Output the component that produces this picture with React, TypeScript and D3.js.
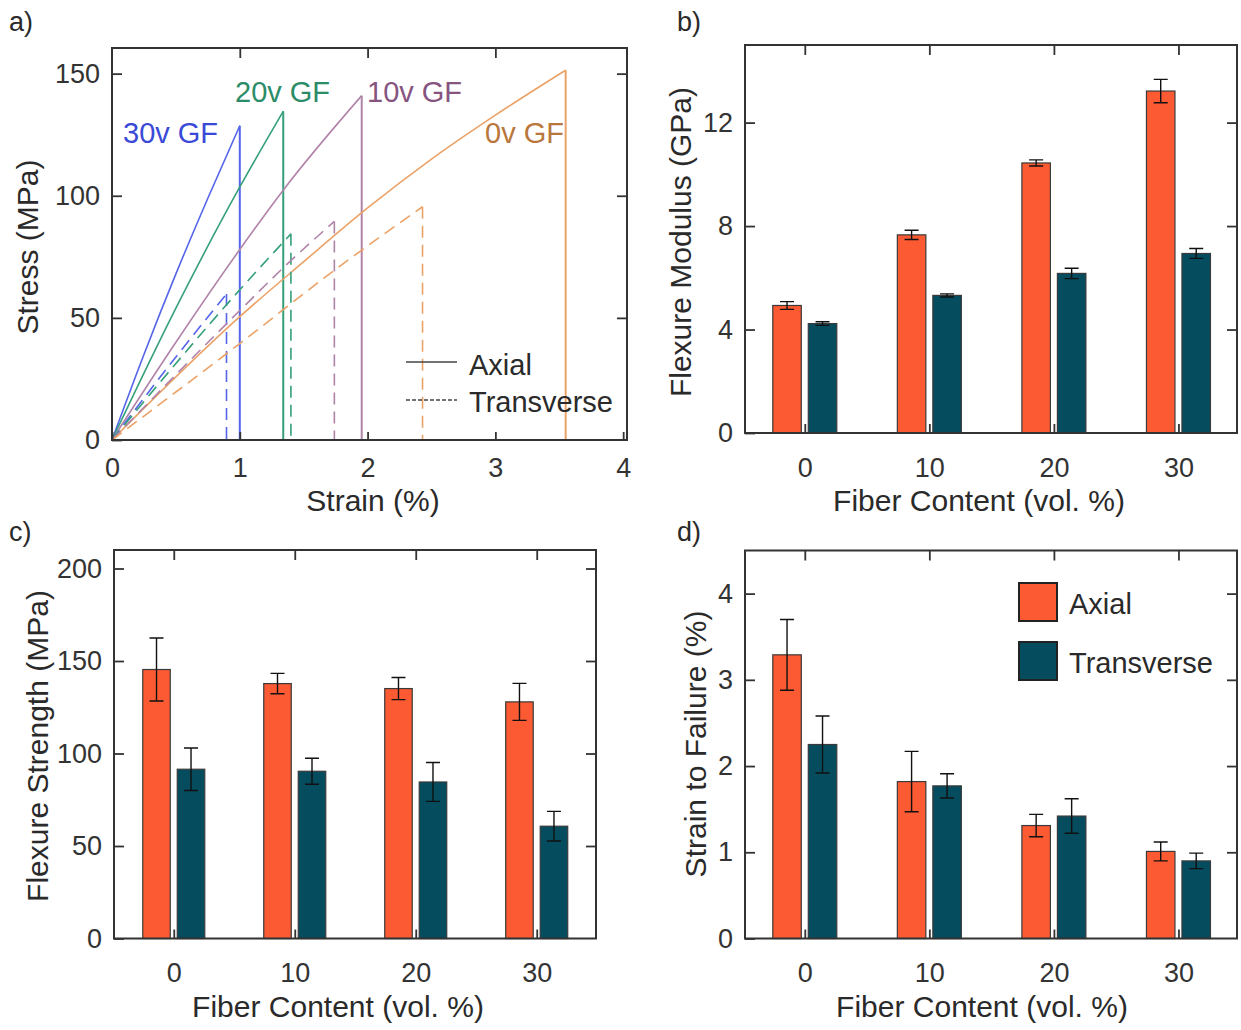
import React, { useEffect, useRef } from 'react'
import * as d3 from 'd3'

const W = 1241
const H = 1030
const FONT = '"Liberation Sans", Arial, Helvetica, sans-serif'
const ORANGE = '#fb5a33'
const TEAL = '#054c5f'
const INK = '#2a2a2a'

// ---- panel a: stress-strain curves, [strain %, stress MPa]
const axial30 = [[0, 0], [0.25, 35], [0.5, 68], [0.75, 99], [1.0, 128.7]]
const axial20 = [[0, 0], [0.5, 54], [1.0, 103.6], [1.34, 134.6]]
const axial10 = [[0, 0], [0.5, 40], [1.0, 78], [1.35, 103], [1.954, 141]]
const axial0 = [[0, 0], [1.0, 50.5], [1.5, 73], [2.0, 95], [2.5, 115], [3.0, 133], [3.55, 151.4]]
const trans30 = [[0, 0], [0.5, 34], [0.896, 59.8]]
const trans20 = [[0, 0], [1.0, 61.5], [1.4, 84.4]]
const trans10 = [[0, 0], [1.0, 53], [1.35, 71], [1.74, 89.5]]
const trans0 = [[0, 0], [1.0, 39.5], [1.74, 69.5], [2.43, 95.5]]

const strainTicks = [0, 1, 2, 3, 4]
const stressTicks = [0, 50, 100, 150]

// ---- panels b, c, d: bar charts
const fiberContent = [0, 10, 20, 30]

const modulusAxial = [4.93, 7.66, 10.44, 13.22]
const modulusAxialErr = [0.15, 0.18, 0.12, 0.45]
const modulusTrans = [4.23, 5.32, 6.17, 6.94]
const modulusTransErr = [0.07, 0.06, 0.2, 0.19]
const modulusTicks = [0, 4, 8, 12]

const strengthAxial = [145.4, 137.8, 135.1, 127.9]
const strengthAxialErr = [17, 5.5, 6, 10]
const strengthTrans = [91.5, 90.4, 84.6, 60.7]
const strengthTransErr = [11.5, 7, 10.5, 8]
const strengthTicks = [0, 50, 100, 150, 200]

const failAxial = [3.29, 1.82, 1.31, 1.01]
const failAxialErr = [0.41, 0.35, 0.13, 0.11]
const failTrans = [2.25, 1.77, 1.42, 0.9]
const failTransErr = [0.33, 0.14, 0.2, 0.09]
const failTicks = [0, 1, 2, 3, 4]

const fmt = d3.format('d')

function styleAxis(g) {
  g.select('.domain').remove()
  g.selectAll('.tick line').attr('stroke', '#333').attr('stroke-width', 1.8)
  g.selectAll('.tick text')
    .attr('fill', '#333')
    .style('font-family', FONT)
    .style('font-size', '27px')
}

function drawFrame(svg, left, top, right, bottom) {
  svg.append('rect')
    .attr('x', left).attr('y', top)
    .attr('width', right - left).attr('height', bottom - top)
    .attr('fill', 'none')
    .attr('stroke', '#333')
    .attr('stroke-width', 2)
}

function addText(svg, txt, x, y, opts: any = {}) {
  const t = svg.append('text')
    .attr('x', x).attr('y', y)
    .attr('fill', opts.fill || INK)
    .attr('text-anchor', opts.anchor || 'start')
    .style('font-family', FONT)
    .style('font-size', (opts.size || 28) + 'px')
    .text(txt)
  if (opts.rotate) t.attr('transform', `rotate(-90, ${x}, ${y})`)
  return t
}

function drawStress(svg) {
  const left = 112, right = 627, top = 48, bottom = 440
  const x = d3.scaleLinear().domain([0, 4.03]).range([left, right])
  const y = d3.scaleLinear().domain([0, 160.5]).range([bottom, top])

  const line = d3.line().x(d => x(d[0])).y(d => y(d[1])).curve(d3.curveMonotoneX)

  const series = [
    { pts: axial30, color: '#5565ea', dash: null },
    { pts: axial20, color: '#35a07a', dash: null },
    { pts: axial10, color: '#b083a9', dash: null },
    { pts: axial0, color: '#eba267', dash: null },
    { pts: trans30, color: '#5565ea', dash: '12,7' },
    { pts: trans20, color: '#35a07a', dash: '12,7' },
    { pts: trans10, color: '#b083a9', dash: '12,7' },
    { pts: trans0, color: '#eba267', dash: '12,7' },
  ]

  const g = svg.append('g').attr('class', 'curves')
  series.forEach(s => {
    const last = s.pts[s.pts.length - 1]
    g.append('path')
      .attr('d', line(s.pts as any))
      .attr('fill', 'none')
      .attr('stroke', s.color)
      .attr('stroke-width', 1.6)
      .attr('stroke-dasharray', s.dash)
    // failure drop
    g.append('path')
      .attr('d', d3.line()([[x(last[0]), y(last[1])], [x(last[0]), y(0)]]))
      .attr('fill', 'none')
      .attr('stroke', s.color)
      .attr('stroke-width', s.dash ? 1.6 : 2)
      .attr('stroke-dasharray', s.dash)
  })

  drawFrame(svg, left, top, right, bottom)

  svg.append('g').attr('transform', `translate(${left},0)`)
    .call(d3.axisLeft(y).tickValues(stressTicks).tickFormat(fmt).tickSize(-10).tickPadding(12))
    .call(styleAxis)
  svg.append('g').attr('transform', `translate(${right},0)`)
    .call(d3.axisRight(y).tickValues(stressTicks.slice(1)).tickSize(-10).tickFormat(() => ''))
    .call(styleAxis)
  svg.append('g').attr('transform', `translate(0,${bottom})`)
    .call(d3.axisBottom(x).tickValues(strainTicks).tickFormat(fmt).tickSize(-8).tickPadding(18))
    .call(styleAxis)
  svg.append('g').attr('transform', `translate(0,${top})`)
    .call(d3.axisTop(x).tickValues(strainTicks.slice(1, 4)).tickSize(-10).tickFormat(() => ''))
    .call(styleAxis)

  // curve labels
  addText(svg, '30v GF', 123, 143, { fill: '#3a4ad6', size: 29 })
  addText(svg, '20v GF', 235, 102, { fill: '#2b8c68', size: 29 })
  addText(svg, '10v GF', 367, 102, { fill: '#86547f', size: 29 })
  addText(svg, '0v GF', 485, 143, { fill: '#b9773c', size: 29 })

  // legend
  svg.append('line').attr('x1', 406).attr('x2', 457).attr('y1', 362).attr('y2', 362)
    .attr('stroke', '#444').attr('stroke-width', 1.6)
  svg.append('line').attr('x1', 406).attr('x2', 457).attr('y1', 400).attr('y2', 400)
    .attr('stroke', '#444').attr('stroke-width', 1.4).attr('stroke-dasharray', '4,2')
  addText(svg, 'Axial', 469, 375, { size: 29 })
  addText(svg, 'Transverse', 469, 412, { size: 29 })

  addText(svg, 'Stress (MPa)', 38, 247, { anchor: 'middle', rotate: true, size: 30 })
  addText(svg, 'Strain (%)', 373, 511, { anchor: 'middle', size: 30 })
  addText(svg, 'a)', 9, 31, { size: 27 })
}

function drawBars(svg, cfg) {
  const { left, right, top, bottom, xDomain, yMax, ticks, axial, axialErr, trans, transErr, bw, gap } = cfg
  const x = d3.scaleLinear().domain(xDomain).range([left, right])
  const y = d3.scaleLinear().domain([0, yMax]).range([bottom, top])

  const groups = [
    { vals: axial, errs: axialErr, color: ORANGE, off: -gap / 2 - bw },
    { vals: trans, errs: transErr, color: TEAL, off: gap / 2 },
  ]

  groups.forEach(s => {
    const g = svg.append('g')
    g.selectAll('rect')
      .data(fiberContent).enter().append('rect')
      .attr('x', d => x(d) + s.off)
      .attr('y', (d, i) => y(s.vals[i]))
      .attr('width', bw)
      .attr('height', (d, i) => y(0) - y(s.vals[i]))
      .attr('fill', s.color)
      .attr('stroke', '#3a3a3a')
      .attr('stroke-width', 1.2)

    // error bars
    const cap = 7
    fiberContent.forEach((d, i) => {
      const cx = x(d) + s.off + bw / 2
      const hi = y(s.vals[i] + s.errs[i])
      const lo = y(s.vals[i] - s.errs[i])
      const path = d3.path()
      path.moveTo(cx, hi); path.lineTo(cx, lo)
      path.moveTo(cx - cap, hi); path.lineTo(cx + cap, hi)
      path.moveTo(cx - cap, lo); path.lineTo(cx + cap, lo)
      g.append('path').attr('d', path.toString())
        .attr('stroke', '#111').attr('stroke-width', 1.4).attr('fill', 'none')
    })
  })

  drawFrame(svg, left, top, right, bottom)

  svg.append('g').attr('transform', `translate(${left},0)`)
    .call(d3.axisLeft(y).tickValues(ticks).tickFormat(fmt).tickSize(-10).tickPadding(12))
    .call(styleAxis)
  svg.append('g').attr('transform', `translate(${right},0)`)
    .call(d3.axisRight(y).tickValues(ticks.slice(1)).tickSize(-10).tickFormat(() => ''))
    .call(styleAxis)
  svg.append('g').attr('transform', `translate(0,${bottom})`)
    .call(d3.axisBottom(x).tickValues(fiberContent).tickFormat(fmt).tickSize(-9).tickPadding(cfg.labelPad))
    .call(styleAxis)
  svg.append('g').attr('transform', `translate(0,${top})`)
    .call(d3.axisTop(x).tickValues(fiberContent).tickSize(-10).tickFormat(() => ''))
    .call(styleAxis)

  addText(svg, cfg.ylabel, cfg.ylabelX, cfg.ylabelY, { anchor: 'middle', rotate: true, size: 30 })
  addText(svg, 'Fiber Content (vol. %)', cfg.xlabelX, cfg.xlabelY, { anchor: 'middle', size: 30 })
  addText(svg, cfg.tag, cfg.tagX, cfg.tagY, { size: 27 })
}

function drawBarLegend(svg) {
  const items = [
    { name: 'Axial', color: ORANGE },
    { name: 'Transverse', color: TEAL },
  ]
  items.forEach((it, i) => {
    svg.append('rect')
      .attr('x', 1019).attr('y', 583 + i * 59)
      .attr('width', 38).attr('height', 38)
      .attr('fill', it.color)
      .attr('stroke', '#222').attr('stroke-width', 2)
    addText(svg, it.name, 1069, 614 + i * 59, { size: 29 })
  })
}

export default function App() {
  const ref = useRef<SVGSVGElement>(null)

  useEffect(() => {
    document.body.style.margin = '0'
    const svg = d3.select(ref.current)
    svg.selectAll('*').remove()

    drawStress(svg)

    drawBars(svg, {
      left: 745, right: 1237, top: 45, bottom: 433,
      xDomain: [-4.8, 34.7], yMax: 15, ticks: modulusTicks,
      axial: modulusAxial, axialErr: modulusAxialErr,
      trans: modulusTrans, transErr: modulusTransErr,
      bw: 28.5, gap: 7, labelPad: 25,
      ylabel: 'Flexure Modulus (GPa)', ylabelX: 691, ylabelY: 242,
      xlabelX: 979, xlabelY: 511, tag: 'b)', tagX: 677, tagY: 31,
    })

    drawBars(svg, {
      left: 114, right: 596, top: 550, bottom: 938.5,
      xDomain: [-4.94, 34.9], yMax: 210, ticks: strengthTicks,
      axial: strengthAxial, axialErr: strengthAxialErr,
      trans: strengthTrans, transErr: strengthTransErr,
      bw: 27.5, gap: 7, labelPad: 24,
      ylabel: 'Flexure Strength (MPa)', ylabelX: 48, ylabelY: 746,
      xlabelX: 338, xlabelY: 1017, tag: 'c)', tagX: 9, tagY: 541,
    })

    drawBars(svg, {
      left: 745, right: 1237, top: 550.5, bottom: 938.5,
      xDomain: [-4.8, 34.7], yMax: 4.5, ticks: failTicks,
      axial: failAxial, axialErr: failAxialErr,
      trans: failTrans, transErr: failTransErr,
      bw: 28.5, gap: 7, labelPad: 24,
      ylabel: 'Strain to Failure (%)', ylabelX: 706, ylabelY: 744,
      xlabelX: 982, xlabelY: 1017, tag: 'd)', tagX: 677, tagY: 541,
    })

    drawBarLegend(svg)
  }, [])

  return (
    <svg ref={ref} width={W} height={H} style={{ display: 'block', background: '#fff' }}></svg>
  )
}
